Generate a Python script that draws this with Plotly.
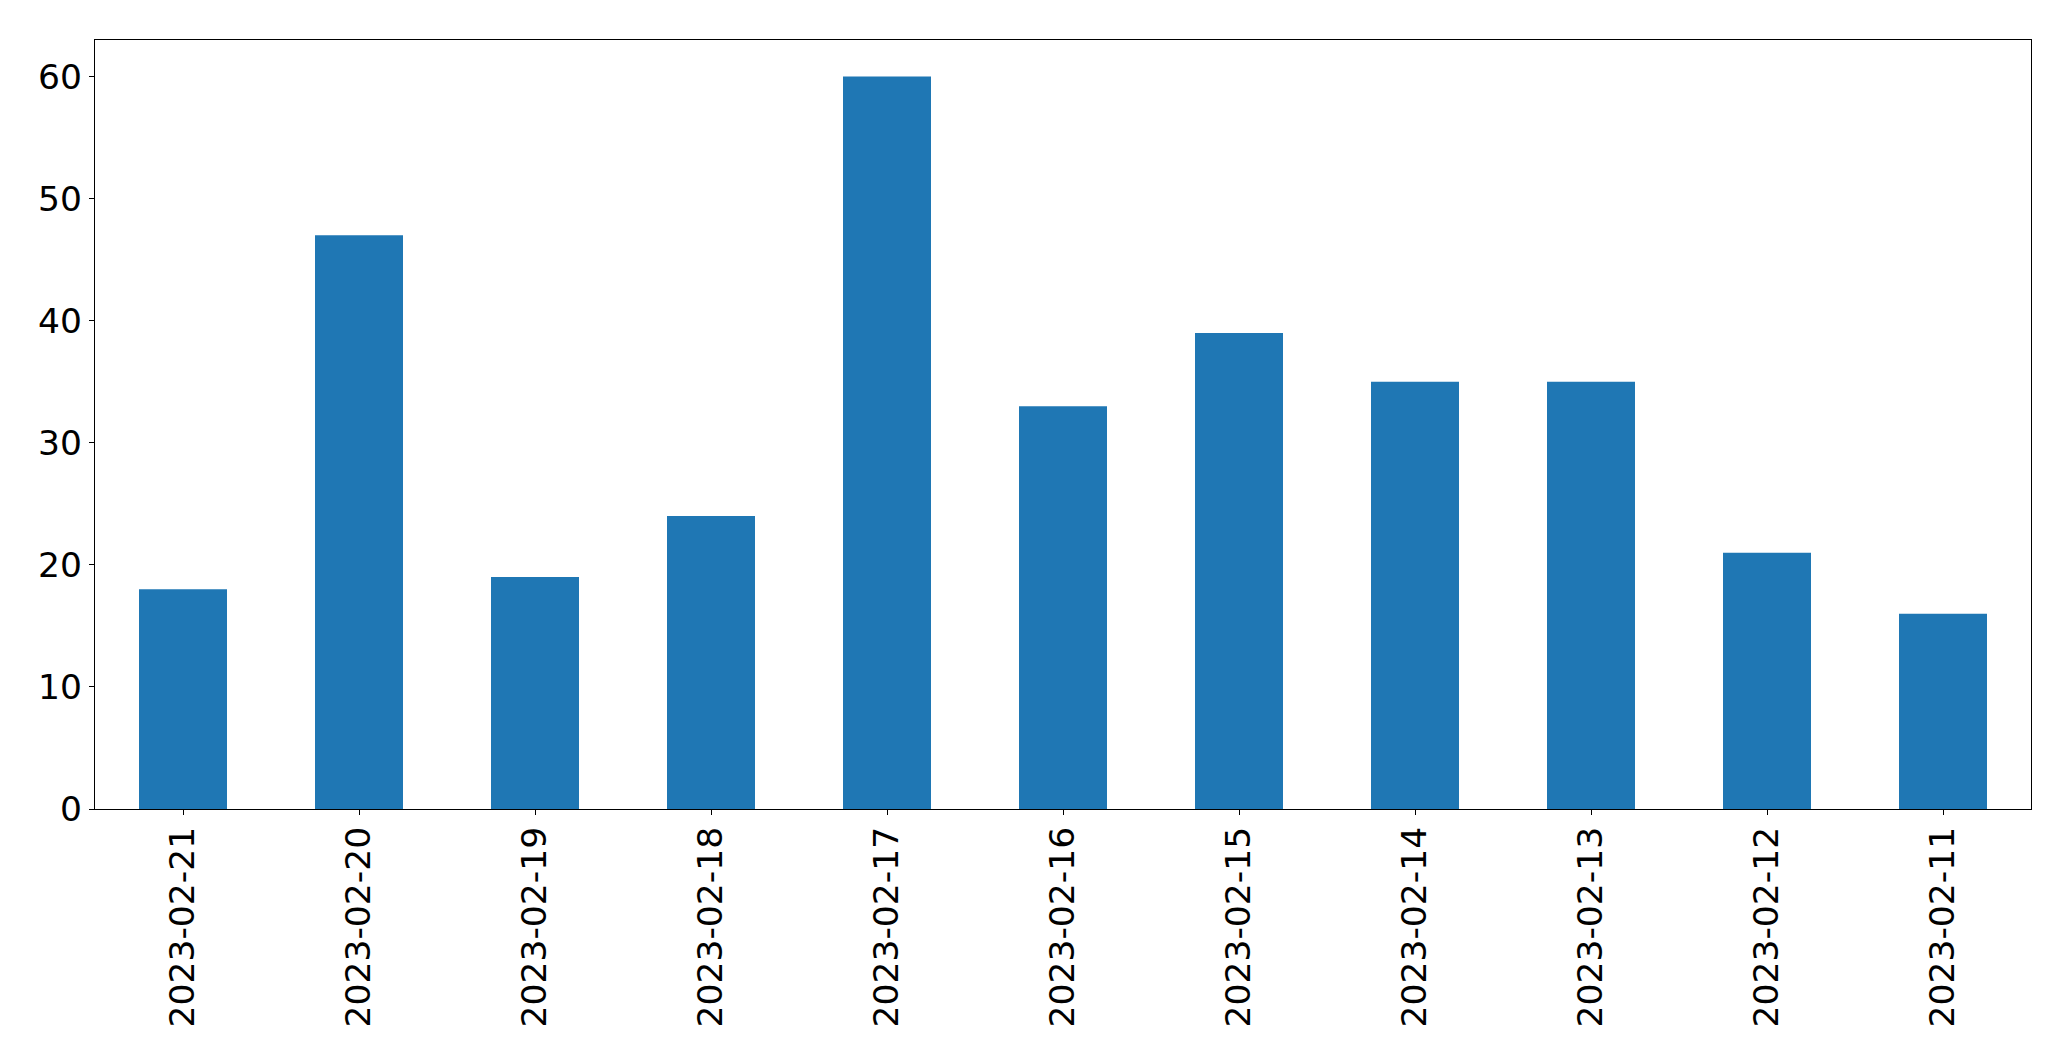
import plotly.graph_objects as go

dates = ["2023-02-21", "2023-02-20", "2023-02-19", "2023-02-18", "2023-02-17",
         "2023-02-16", "2023-02-15", "2023-02-14", "2023-02-13", "2023-02-12",
         "2023-02-11"]
counts = [18, 47, 19, 24, 60, 33, 39, 35, 35, 21, 16]
y_ticks = [0, 10, 20, 30, 40, 50, 60]

fig = go.Figure(go.Bar(x=dates, y=counts, width=0.5, marker=dict(color="#1f77b4", line=dict(width=0))))

font = dict(family="DejaVu Sans", size=34.5, color="black")
fig.update_layout(
    width=2071, height=1061, autosize=False,
    margin=dict(l=95, r=40, t=40, b=252),
    plot_bgcolor="white", paper_bgcolor="white",
    showlegend=False,
    font=font,
)
fig.update_xaxes(
    type="category", range=[-0.5, 10.5], tickangle=-90, automargin=False,
    showline=True, linecolor="black", linewidth=1.2, mirror=True,
    ticks="outside", ticklen=5, tickwidth=1.2, tickcolor="black",
    showgrid=False, zeroline=False, tickfont=font, ticklabelstandoff=-2,
)
fig.update_yaxes(
    range=[0, 63], tickvals=y_ticks, automargin=False,
    showline=True, linecolor="black", linewidth=1.2, mirror=True,
    ticks="outside", ticklen=5, tickwidth=1.2, tickcolor="black",
    showgrid=False, zeroline=False, tickfont=font, ticklabelstandoff=0,
)
fig.write_html("out.html", config={"displayModeBar": False},
               post_script="document.body.style.margin='0px';")
